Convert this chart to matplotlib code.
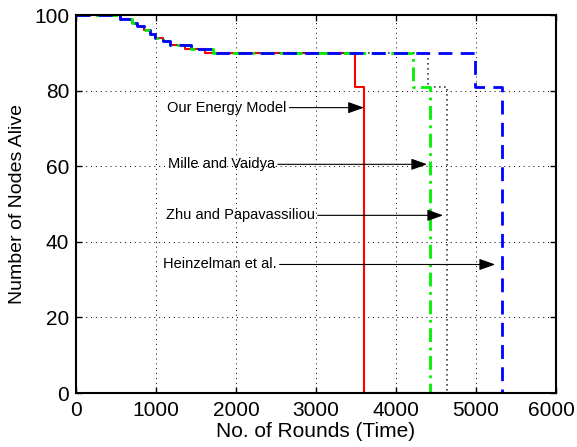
import matplotlib
matplotlib.use("Agg")
import matplotlib.pyplot as plt
from matplotlib.transforms import ScaledTranslation

plt.rcParams['font.family'] = ['Liberation Sans', 'DejaVu Sans']

# Step data (rounds, nodes alive)
red_x = [0, 550, 700, 760, 850, 925, 990, 1090, 1175, 1360, 1610, 3490, 3600, 5340]
red_y = [100, 99, 98, 97, 96, 95, 94, 93, 92, 91, 90, 81, 0, 0]

green_x = [0, 550, 700, 760, 850, 925, 990, 1090, 1175, 1440, 1710, 4210, 4420, 5340]
green_y = [100, 99, 98, 97, 96, 95, 94, 93, 92, 91, 90, 81, 0, 0]

black_x = [0, 550, 700, 760, 850, 925, 990, 1090, 1175, 1440, 1710, 4400, 4640, 5340]
black_y = [100, 99, 98, 97, 96, 95, 94, 93, 92, 91, 90, 81, 0, 0]

blue_x = [0, 550, 700, 760, 850, 925, 990, 1090, 1175, 1440, 1710, 4990, 5330, 5340]
blue_y = [100, 99, 98, 97, 96, 95, 94, 93, 92, 91, 90, 81, 0, 0]

labels = ["Our Energy Model", "Mille and Vaidya", "Zhu and Papavassiliou", "Heinzelman et al."]
label_pos = [(1140, 75.5), (1150, 60.5), (1125, 47), (1090, 34)]
arrow_tips = [(3600, 75.5), (4390, 60.5), (4590, 47), (5240, 34)]

fig = plt.figure(figsize=(5.77, 4.47), dpi=100)
ax = fig.add_axes([0.1317, 0.1208, 0.9636 - 0.1317, 0.9664 - 0.1208])

ax.step(red_x, red_y, where='post', color='red', linestyle='-', linewidth=1.5)
ax.step(black_x, black_y, where='post', color='#404040', linestyle=(0, (1, 2)), linewidth=1.2)
ax.step(green_x, green_y, where='post', color='#00ee00', linestyle=(0, (5, 2, 1, 2)), linewidth=2)
ax.step(blue_x, blue_y, where='post', color='blue', linestyle=(0, (5, 3)), linewidth=2)

for lab, (tx, ty), (ax_, ay_) in zip(labels, label_pos, arrow_tips):
    ax.annotate(lab, xy=(ax_, ay_), xytext=(tx, ty), fontsize=10.5, ha='left', va='center',
                arrowprops=dict(arrowstyle='-|>,head_length=0.7,head_width=0.25', color='black', lw=0.8,
                                shrinkA=0, shrinkB=0, mutation_scale=14))

ax.set_xlim(0, 6000)
ax.set_ylim(0, 100)
ax.set_xticks([0, 1000, 2000, 3000, 4000, 5000, 6000])
ax.set_yticks([0, 20, 40, 60, 80, 100])
ax.grid(True, color='black', linestyle=(0, (1, 4)), linewidth=0.7)
ax.tick_params(direction='in', labelsize=15, width=1, length=4, top=True, right=True)
ax.tick_params(axis='x', pad=6)
ax.tick_params(axis='y', pad=5)
for s in ax.spines.values():
    s.set_linewidth(1.5)
ax.set_xlabel("No. of Rounds (Time)", fontsize=15, labelpad=1)
ax.set_ylabel("Number of Nodes Alive", fontsize=14, labelpad=6)

# nudge last x tick label so it stays inside the figure
last = ax.get_xticklabels()[-1]
last.set_transform(last.get_transform() + ScaledTranslation(-3 / 72, 0, fig.dpi_scale_trans))

fig.savefig("out.png", dpi=100)
